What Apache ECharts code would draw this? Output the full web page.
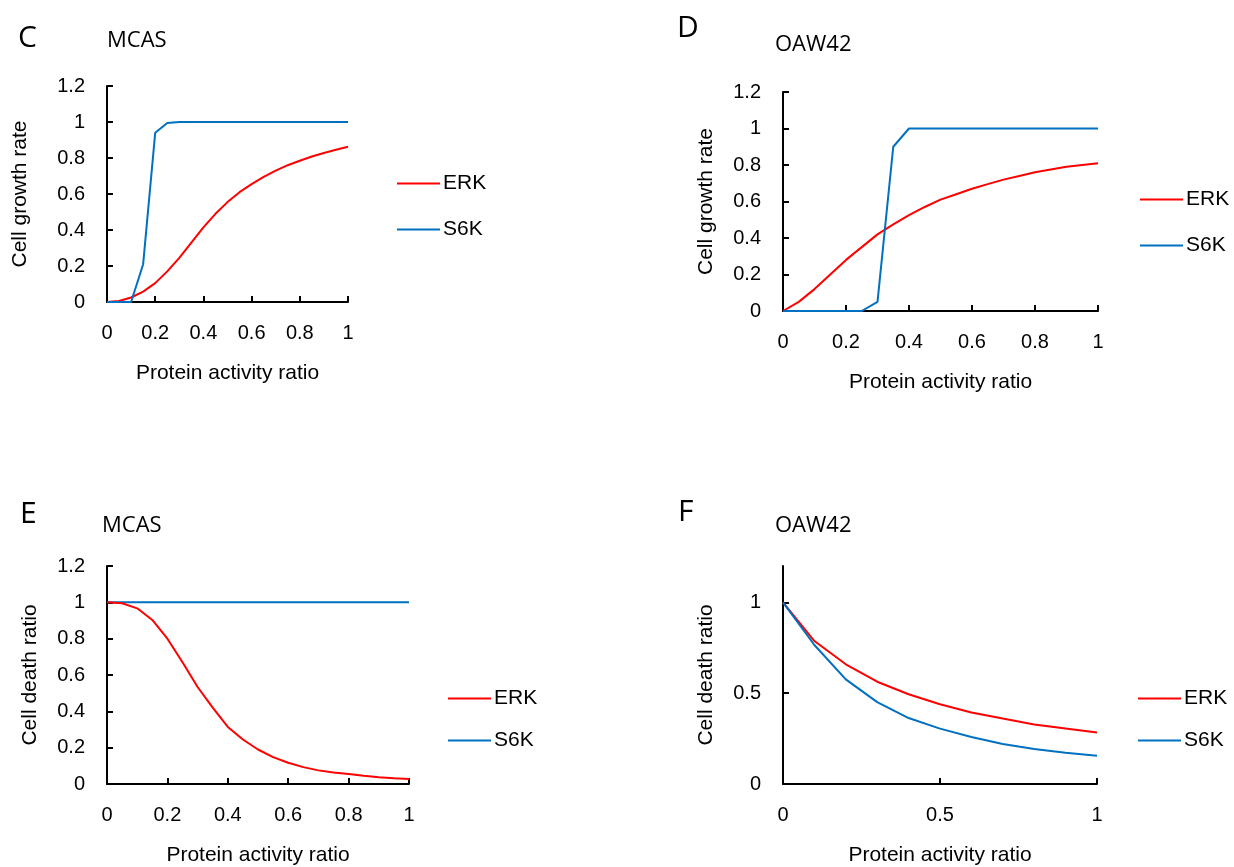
<!DOCTYPE html>
<html>
<head>
<meta charset="utf-8">
<script src="https://cdn.jsdelivr.net/npm/echarts@6/dist/echarts.min.js"></script>
<style>
  html, body { margin: 0; padding: 0; background: #fff; }
  #chart { width: 1234px; height: 867px; }
</style>
</head>
<body>
<div id="chart"></div>
<script>
// x steps used in the panels
const xFine = [0, 0.05, 0.1, 0.15, 0.2, 0.25, 0.3, 0.35, 0.4, 0.45, 0.5, 0.55, 0.6, 0.65, 0.7, 0.75, 0.8, 0.85, 0.9, 0.95, 1]
const xCoarse = [0, 0.1, 0.2, 0.3, 0.4, 0.5, 0.6, 0.7, 0.8, 0.9, 1]

// C - MCAS growth
const growthMcasErk = [0, 0.006, 0.025, 0.058, 0.105, 0.17, 0.245, 0.33, 0.415, 0.49, 0.555, 0.61, 0.655, 0.695, 0.73, 0.76, 0.785, 0.808, 0.828, 0.846, 0.862]
const growthMcasS6k = [0, 0, 0, 0.21, 0.94, 0.995, 1, 1, 1, 1, 1, 1, 1, 1, 1, 1, 1, 1, 1, 1, 1]

// D - OAW42 growth
const growthOawErk = [0, 0.05, 0.12, 0.2, 0.28, 0.35, 0.42, 0.475, 0.525, 0.57, 0.61, 0.64, 0.67, 0.695, 0.72, 0.74, 0.76, 0.775, 0.79, 0.8, 0.81]
const growthOawS6k = [0, 0, 0, 0, 0, 0, 0.05, 0.9, 1, 1, 1, 1, 1, 1, 1, 1, 1, 1, 1, 1, 1]

// E - MCAS death
const deathMcasErk = [1, 0.995, 0.967, 0.903, 0.8, 0.67, 0.534, 0.42, 0.314, 0.245, 0.19, 0.148, 0.117, 0.093, 0.075, 0.063, 0.055, 0.045, 0.037, 0.031, 0.027]
const deathMcasS6k = [1, 1, 1, 1, 1, 1, 1, 1, 1, 1, 1, 1, 1, 1, 1, 1, 1, 1, 1, 1, 1]

// F - OAW42 death
const deathOawErk = [1, 0.787, 0.659, 0.563, 0.494, 0.439, 0.394, 0.36, 0.328, 0.305, 0.284]
const deathOawS6k = [1, 0.765, 0.576, 0.451, 0.363, 0.305, 0.259, 0.22, 0.193, 0.172, 0.156]

const seriesNames = ['ERK', 'S6K']
const panelLetters = ['C', 'D', 'E', 'F']
const panelTitles = ['MCAS', 'OAW42', 'MCAS', 'OAW42']

const RED = '#ff0000'
const BLUE = '#0070c0'
const FONT = '"Liberation Sans", Arial, sans-serif'

const pairs = (xs, ys) => xs.map((x, i) => [x, ys[i]])

const grids = [
  { left: 107, top: 86, width: 241, height: 216 },
  { left: 783, top: 92, width: 315, height: 219 },
  { left: 107, top: 566, width: 302, height: 218 },
  { left: 783, top: 566, width: 314, height: 218 },
]

const axisBase = {
  axisLine: { lineStyle: { color: '#000', width: 2 } },
  axisTick: { inside: true, length: 6, lineStyle: { color: '#000', width: 2 } },
  axisLabel: { color: '#000', fontFamily: FONT, fontSize: 20, margin: 21 },
  splitLine: { show: false },
  nameLocation: 'middle',
  nameTextStyle: { color: '#000', fontFamily: FONT, fontSize: 21 },
}

function xAxis(i, interval) {
  return Object.assign({}, axisBase, {
    type: 'value', gridIndex: i, min: 0, max: 1, interval: interval,
    name: 'Protein activity ratio', nameGap: 61,
  })
}

function yAxis(i, name, gap, extra) {
  return Object.assign({}, axisBase, {
    type: 'value', gridIndex: i, min: 0, max: 1.2, interval: 0.2,
    name: name, nameGap: gap,
    axisLabel: Object.assign({}, axisBase.axisLabel, { margin: 22 }),
  }, extra || {})
}

function line(name, i, data, color) {
  return {
    name: name, type: 'line', xAxisIndex: i, yAxisIndex: i,
    data: data, symbol: 'none', smooth: false,
    lineStyle: { color: color, width: 2 }, itemStyle: { color: color },
  }
}

function legend(left, top, gap) {
  return {
    data: seriesNames, orient: 'vertical', left: left, top: top, itemGap: gap,
    icon: 'rect', itemWidth: 43, itemHeight: 2, padding: 0,
    textStyle: { color: '#000', fontFamily: FONT, fontSize: 21, padding: [0, 0, 0, -2] },
  }
}

const letterPos = [[18, 23], [677, 13], [20, 499], [678, 497]]
const titlePos = [[107, 30], [775, 34], [102, 515], [775, 515]]

const titles = []
panelLetters.forEach((t, i) => titles.push({
  text: t, left: letterPos[i][0], top: letterPos[i][1], padding: 0,
  textStyle: { fontFamily: '"Open Sans", sans-serif', fontWeight: 'normal', fontSize: 30, color: '#000' },
}))
panelTitles.forEach((t, i) => titles.push({
  text: t, left: titlePos[i][0], top: titlePos[i][1], padding: 0,
  textStyle: { fontFamily: '"Open Sans", sans-serif', fontWeight: 'normal', fontSize: 22, color: '#000' },
}))

const option = {
  animation: false,
  backgroundColor: '#fff',
  title: titles,
  legend: [
    legend(397, 173, 25),
    legend(1140, 189, 25),
    legend(448, 688, 21),
    legend(1138, 688, 21),
  ],
  grid: grids,
  xAxis: [xAxis(0, 0.2), xAxis(1, 0.2), xAxis(2, 0.2), xAxis(3, 0.5)],
  yAxis: [
    yAxis(0, 'Cell growth rate', 76),
    yAxis(1, 'Cell growth rate', 66),
    yAxis(2, 'Cell death ratio', 66),
    yAxis(3, 'Cell death ratio', 66, {
      interval: 0.5,
      axisTick: Object.assign({}, axisBase.axisTick, { customValues: [0, 0.5, 1] }),
      axisLabel: Object.assign({}, axisBase.axisLabel, { margin: 22, customValues: [0, 0.5, 1] }),
    }),
  ],
  series: [
    line('ERK', 0, pairs(xFine, growthMcasErk), RED),
    line('S6K', 0, pairs(xFine, growthMcasS6k), BLUE),
    line('ERK', 1, pairs(xFine, growthOawErk), RED),
    line('S6K', 1, pairs(xFine, growthOawS6k), BLUE),
    line('S6K', 2, pairs(xFine, deathMcasS6k), BLUE),
    line('ERK', 2, pairs(xFine, deathMcasErk), RED),
    line('ERK', 3, pairs(xCoarse, deathOawErk), RED),
    line('S6K', 3, pairs(xCoarse, deathOawS6k), BLUE),
  ],
}

const myChart = echarts.init(document.getElementById('chart'))
myChart.setOption(option)
</script>
</body>
</html>
